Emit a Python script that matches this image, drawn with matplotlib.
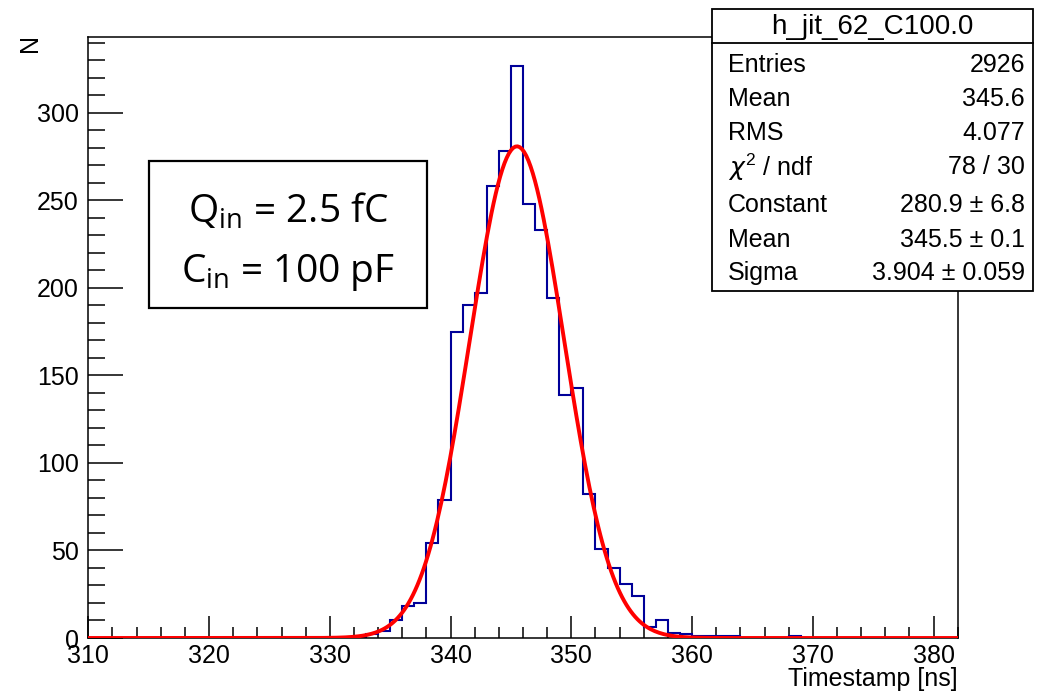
import numpy as np
import matplotlib
matplotlib.use("Agg")
import matplotlib.pyplot as plt
from matplotlib.patches import Rectangle
from matplotlib.ticker import MultipleLocator

# ---------------- data ----------------
x_min, x_max = 310, 382          # histogram range [ns], 1 ns bins
bin_lows = list(range(333, 369))  # lower edges of the populated bins
counts = [2, 4, 10, 18, 20, 54, 79, 175, 190, 197, 258, 278, 327, 248,
          233, 194, 139, 143, 82, 51, 40, 31, 24, 6, 10, 3, 2, 1, 1, 1,
          1, 0, 0, 0, 0, 1]

fit_constant = 280.9
fit_mean = 345.5
fit_sigma = 3.904

hist_name = "h_jit_62_C100.0"
stat_labels = ["Entries", "Mean", "RMS", r"$\chi^{\mathregular{2}}$ / ndf",
               "Constant", "Mean", "Sigma"]
stat_values = ["2926", "345.6", "4.077", "78 / 30",
               "280.9 \u00b1 6.8", "345.5 \u00b1 0.1", "3.904 \u00b1 0.059"]

x_title = "Timestamp [ns]"
y_title = "N"
note_lines = ["Q$_{\\mathregular{in}}$ = 2.5 fC", "C$_{\\mathregular{in}}$ = 100 pF"]

# ---------------- figure ----------------
plt.rcParams['font.family'] = ['Liberation Sans', 'DejaVu Sans']
W, H = 1038, 691
fig = plt.figure(figsize=(W / 100, H / 100), dpi=100)


def fx(px):
    return px / W


def fy(py):
    return 1 - py / H


ax_l, ax_r, ax_t, ax_b = 88.3, 957.7, 37, 638
ax = fig.add_axes([fx(ax_l), fy(ax_b), fx(ax_r) - fx(ax_l), fy(ax_t) - fy(ax_b)])

edges = np.arange(x_min, x_max + 1)
full_counts = np.zeros(len(edges) - 1)
for lo, c in zip(bin_lows, counts):
    full_counts[lo - x_min] = c

ax.stairs(full_counts, edges, color='#000099', lw=1.5, baseline=0, zorder=2)

xf = np.linspace(x_min, x_max, 400)
yf = fit_constant * np.exp(-0.5 * ((xf - fit_mean) / fit_sigma) ** 2)
ax.plot(xf, yf, color='#ff0000', lw=2.8, zorder=3)

ax.set_xlim(x_min, x_max)
ax.set_ylim(0, 1.05 * max(counts))

ax.xaxis.set_major_locator(MultipleLocator(10))
ax.xaxis.set_minor_locator(MultipleLocator(2))
ax.yaxis.set_major_locator(MultipleLocator(50))
ax.yaxis.set_minor_locator(MultipleLocator(10))

ax.tick_params(axis='x', which='major', direction='in', length=16, width=1.1,
               top=False, labelsize=18, pad=4.5)
ax.tick_params(axis='x', which='minor', direction='in', length=8, width=1.1, top=False)
ax.tick_params(axis='y', which='major', direction='in', length=25, width=1.1,
               right=False, labelsize=18, pad=7)
ax.tick_params(axis='y', which='minor', direction='in', length=12.5, width=1.1, right=False)
for s in ax.spines.values():
    s.set_linewidth(1.1)

fig.text(fx(ax_r), fy(679), x_title, ha='right', va='center', fontsize=18)
fig.text(fx(30), fy(34), y_title, ha='center', va='top', fontsize=18, rotation=90)

# ---------------- stats box ----------------
bx_l, bx_r, bx_t, bx_b, bx_sep = 712, 1033, 9, 291, 43
fig.add_artist(Rectangle((fx(bx_l), fy(bx_b)), fx(bx_r) - fx(bx_l), fy(bx_t) - fy(bx_b),
                         transform=fig.transFigure, facecolor='white',
                         edgecolor='black', lw=1.3, zorder=5))
fig.add_artist(plt.Line2D([fx(bx_l), fx(bx_r)], [fy(bx_sep), fy(bx_sep)],
                          transform=fig.transFigure, color='black', lw=1.3, zorder=6))
fig.text(fx((bx_l + bx_r) / 2), fy(27), hist_name, ha='center', va='center',
         fontsize=20, zorder=7)
row_y = [65, 99, 133, 167, 205, 240, 273]
for yy, lab, val in zip(row_y, stat_labels, stat_values):
    fig.text(fx(728), fy(yy), lab, ha='left', va='center', fontsize=18, zorder=7)
    fig.text(fx(1025), fy(yy), val, ha='right', va='center', fontsize=18, zorder=7)

# ---------------- note box ----------------
nb_l, nb_r, nb_t, nb_b = 149, 427, 161, 308
fig.add_artist(Rectangle((fx(nb_l), fy(nb_b)), fx(nb_r) - fx(nb_l), fy(nb_t) - fy(nb_b),
                         transform=fig.transFigure, facecolor='white',
                         edgecolor='black', lw=1.6, zorder=5))
for yy, line in zip([212, 272], note_lines):
    fig.text(fx((nb_l + nb_r) / 2), fy(yy), line, ha='center', va='center',
             fontsize=28, family=['Open Sans', 'DejaVu Sans'], zorder=7)

fig.savefig("out.png", dpi=100)
